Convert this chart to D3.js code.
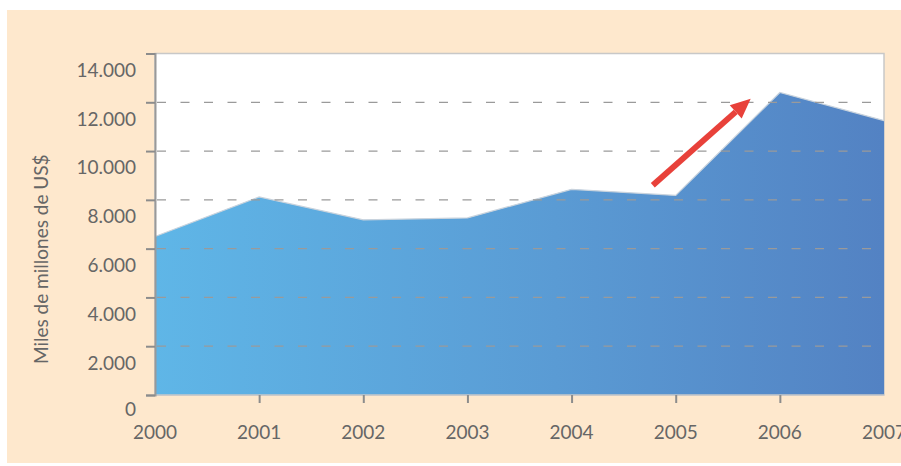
<!DOCTYPE html>
<html lang="es">
<head>
  <meta charset="UTF-8">
  <script type="text/javascript" src="https://cdn.jsdelivr.net/npm/d3@7/dist/d3.min.js"></script>
  <title>Miles de millones de US$</title>
  <style>
    body { margin: 0; background: #fff; }
    text { font-family: 'Lato', sans-serif; fill: #666; }
    .ticks_text { font-size: 19px; }
    .axis_text { font-size: 19px; }
  </style>
</head>
<body>
<div id="chart"></div>
<script>
  // data
  var years = [2000, 2001, 2002, 2003, 2004, 2005, 2006, 2007];
  var values = [6500, 8120, 7180, 7260, 8430, 8180, 12400, 11250];
  var yTicks = [0, 2000, 4000, 6000, 8000, 10000, 12000, 14000];
  // arrow start/end (year, value)
  var arrowFrom = [2004.78, 8600];
  var arrowTo = [2005.72, 12150];

  var W = 901, H = 466;
  var pLeft = 155, pRight = 884, pTop = 53.5, pBottom = 395;

  var svg = d3.select("#chart").append("svg")
    .attr("width", W).attr("height", H);

  svg.append("rect")
    .attr("x", 7).attr("y", 10)
    .attr("width", W - 7).attr("height", 453)
    .style("fill", "#fee8cd");

  var xScale = d3.scaleLinear().domain([2000, 2007]).range([pLeft, pRight]);
  var yScale = d3.scaleLinear().domain([0, 14000]).range([pBottom, pTop]);

  // plot background
  svg.append("rect")
    .attr("x", pLeft).attr("y", pTop)
    .attr("width", pRight - pLeft).attr("height", pBottom - pTop)
    .style("fill", "#fff")
    .style("stroke", "#c8c8c8")
    .style("stroke-width", 1.5);

  var defs = svg.append("defs");
  var grad = defs.append("linearGradient")
    .attr("id", "areaGrad")
    .attr("gradientUnits", "userSpaceOnUse")
    .attr("x1", pLeft).attr("x2", pRight).attr("y1", 0).attr("y2", 0);
  grad.append("stop").attr("offset", "0%").attr("stop-color", "#5fb6e7");
  grad.append("stop").attr("offset", "55%").attr("stop-color", "#5a9bd4");
  grad.append("stop").attr("offset", "100%").attr("stop-color", "#5382c3");

  var area = d3.area()
    .x(function(d, i) { return xScale(years[i]); })
    .y0(yScale(0))
    .y1(function(d) { return yScale(d); });

  svg.append("path")
    .datum(values)
    .attr("d", area)
    .style("fill", "url(#areaGrad)");

  var line = d3.line()
    .x(function(d, i) { return xScale(years[i]); })
    .y(function(d) { return yScale(d); });

  svg.append("path")
    .datum(values)
    .attr("d", line)
    .style("fill", "none")
    .style("stroke", "#c9d3dd")
    .style("stroke-width", 1.2);

  // dashed gridlines
  svg.selectAll(".grid")
    .data(yTicks.filter(function(d) { return d > 0 && d < 14000; }))
    .enter().append("line")
    .attr("class", "grid")
    .attr("x1", pLeft + 2).attr("x2", pRight)
    .attr("y1", function(d) { return yScale(d); })
    .attr("y2", function(d) { return yScale(d); })
    .style("stroke", "#9a9a9a")
    .style("stroke-width", 1.3)
    .style("stroke-dasharray", "9,14.5");

  // bottom border
  svg.append("line")
    .attr("x1", pLeft).attr("x2", pRight)
    .attr("y1", pBottom).attr("y2", pBottom)
    .style("stroke", "#c8c8c8").style("stroke-width", 1.5);

  // y axis
  var yAxis = svg.append("g")
    .attr("transform", "translate(" + pLeft + ",0)")
    .call(d3.axisLeft(yScale).tickValues(yTicks).tickSize(9)
      .tickFormat(function(d) { return d3.format(",")(d).replace(/,/g, "."); }));
  yAxis.select(".domain").style("stroke", "#999").style("stroke-width", 2);
  yAxis.selectAll(".tick line").style("stroke", "#8c8c8c").style("stroke-width", 2);
  yAxis.selectAll(".tick text")
    .attr("class", "ticks_text")
    .attr("x", -19)
    .attr("dy", function(d) { return d === 0 ? "1.1em" : "1.2em"; })
    .style("fill", "#666")
    .style("font-family", "Lato, sans-serif");

  // x axis
  var xAxis = svg.append("g")
    .attr("transform", "translate(0," + pBottom + ")")
    .call(d3.axisBottom(xScale).tickValues(years.slice(1, 7)).tickSize(8).tickFormat(d3.format("d")));
  xAxis.select(".domain").remove();
  xAxis.selectAll(".tick line").style("stroke", "#8c8c8c").style("stroke-width", 2);
  xAxis.selectAll(".tick text").remove();

  svg.selectAll(".xlab")
    .data(years)
    .enter().append("text")
    .attr("class", "xlab ticks_text")
    .attr("x", function(d) { return xScale(d); })
    .attr("y", 439)
    .attr("text-anchor", "middle")
    .text(function(d) { return d; });

  // y axis title
  svg.append("text")
    .attr("class", "axis_text")
    .attr("transform", "translate(48," + ((pTop + pBottom) / 2 + 35) + ") rotate(-90)")
    .attr("text-anchor", "middle")
    .text("Miles de millones de US$");

  // red arrow
  var ax0 = xScale(arrowFrom[0]), ay0 = yScale(arrowFrom[1]);
  var ax1 = xScale(arrowTo[0]), ay1 = yScale(arrowTo[1]);
  var ang = Math.atan2(ay1 - ay0, ax1 - ax0);
  var headLen = 20, headW = 9;
  var bx = ax1 - headLen * Math.cos(ang), by = ay1 - headLen * Math.sin(ang);
  svg.append("line")
    .attr("x1", ax0).attr("y1", ay0)
    .attr("x2", bx).attr("y2", by)
    .style("stroke", "#e8413a").style("stroke-width", 6);
  svg.append("path")
    .attr("d", "M" + ax1 + "," + ay1 +
      "L" + (bx + headW * Math.sin(ang)) + "," + (by - headW * Math.cos(ang)) +
      "L" + (bx - headW * Math.sin(ang)) + "," + (by + headW * Math.cos(ang)) + "Z")
    .style("fill", "#e8413a");
</script>
</body>
</html>
